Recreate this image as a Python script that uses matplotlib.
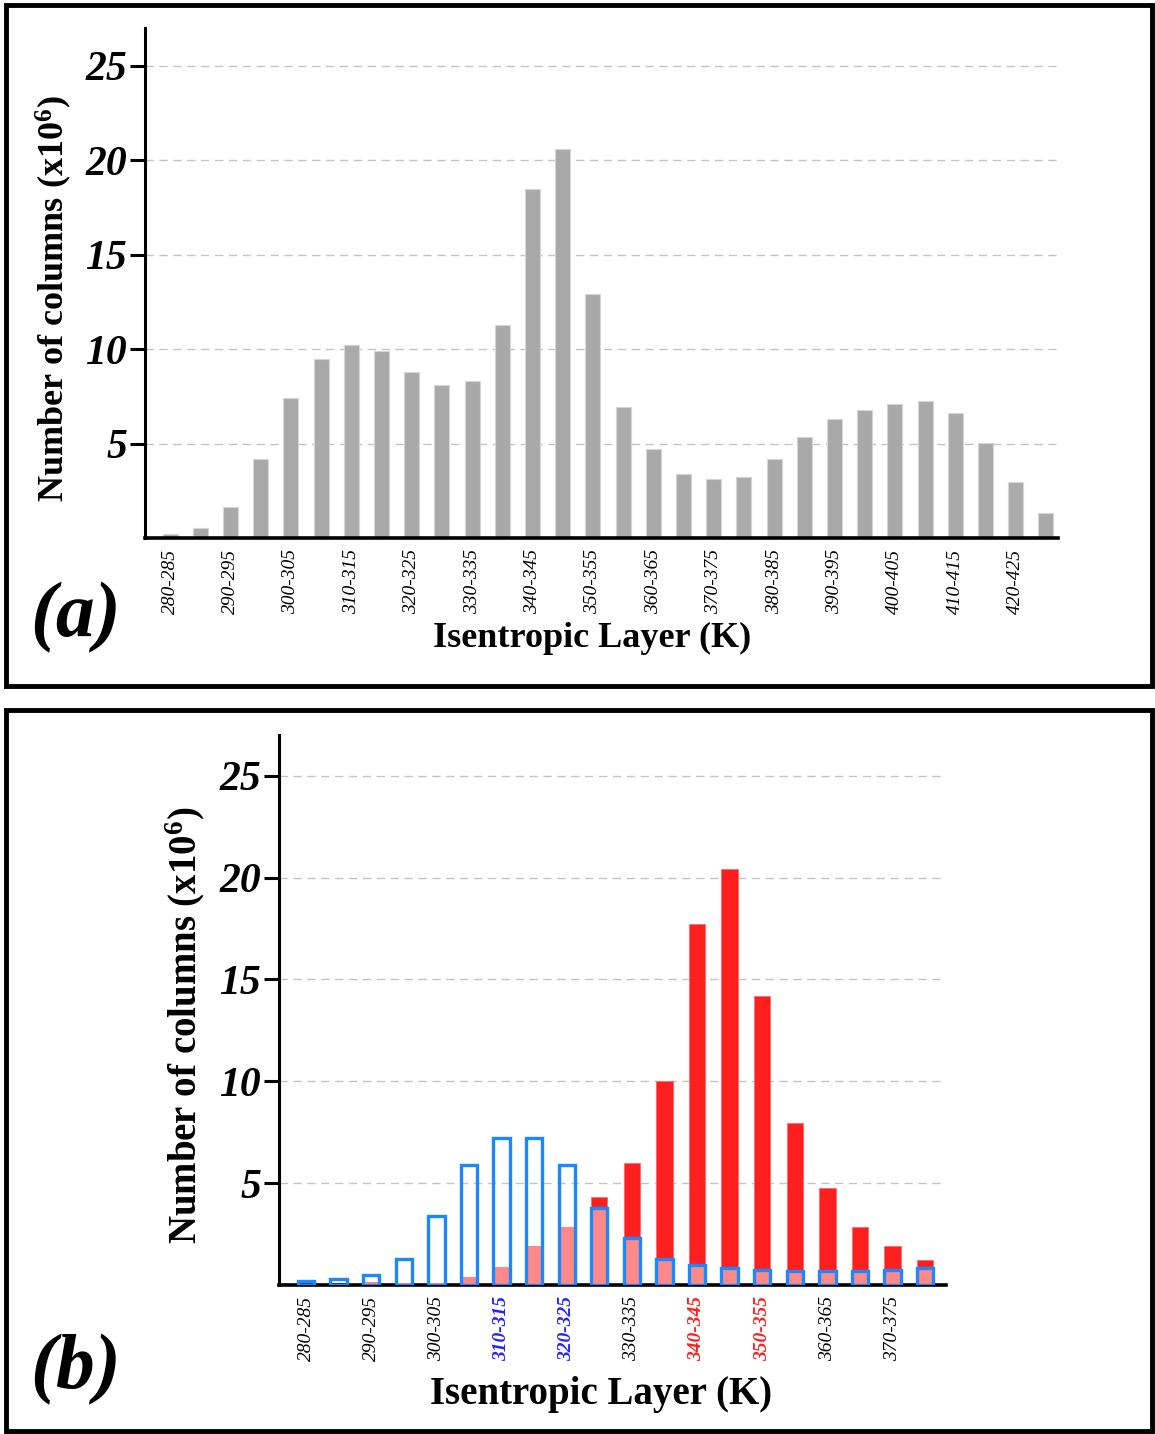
import numpy as np
import matplotlib.pyplot as plt
from matplotlib.patches import Rectangle

plt.rcParams['font.family'] = ['Liberation Serif', 'DejaVu Serif']
plt.rcParams['mathtext.fontset'] = 'custom'
plt.rcParams['mathtext.rm'] = 'Liberation Serif:bold'
plt.rcParams['mathtext.it'] = 'Liberation Serif:bold:italic'
plt.rcParams['mathtext.bf'] = 'Liberation Serif:bold'

# (a) all columns
layers_a = ['280-285', '285-290', '290-295', '295-300', '300-305', '305-310',
            '310-315', '315-320', '320-325', '325-330', '330-335', '335-340',
            '340-345', '345-350', '350-355', '355-360', '360-365', '365-370',
            '370-375', '375-380', '380-385', '385-390', '390-395', '395-400',
            '400-405', '405-410', '410-415', '415-420', '420-425', '425-430']
counts_a = [0.2, 0.55, 1.65, 4.2, 7.4, 9.5, 10.2, 9.9, 8.8, 8.1,
            8.3, 11.3, 18.5, 20.6, 12.9, 6.95, 4.7, 3.4, 3.1, 3.25,
            4.2, 5.35, 6.3, 6.8, 7.1, 7.25, 6.6, 5.05, 2.95, 1.3]

# (b) red = one class, blue outline = other class, pink = where both overlap
layers_b = layers_a[:20]
red_b = [0.05, 0.05, 0.15, 0.1, 0.1, 0.4, 0.9, 1.9, 2.85, 4.3,
         6.0, 10.0, 17.7, 20.4, 14.2, 7.95, 4.75, 2.85, 1.9, 1.25]
blue_b = [0.2, 0.3, 0.5, 1.3, 3.4, 5.9, 7.2, 7.2, 5.9, 3.8,
          2.3, 1.3, 1.0, 0.85, 0.75, 0.7, 0.7, 0.7, 0.75, 0.85]
label_colors_b = {'310-315': '#2323ff', '320-325': '#2323ff',
                  '340-345': '#ff2020', '350-355': '#ff2020'}

yticks = [5, 10, 15, 20, 25]
ylabel = 'Number of columns (x10$^{6}$)'
xlabel = 'Isentropic Layer (K)'

W, H = 1155, 1434
fig = plt.figure(figsize=(W / 100, H / 100), dpi=100)


def style_axes(ax, xmax, labsize, ylabelpad, xlabelpad):
    ax.set_xlim(-0.83, xmax)
    ax.set_ylim(0, 27)
    ax.set_yticks(yticks)
    ax.set_yticklabels([str(t) for t in yticks], fontsize=30,
                       fontweight='bold', fontstyle='italic')
    ax.yaxis.grid(True, linestyle=(0, (6, 4)), color='#c4c4c4', lw=1)
    ax.set_axisbelow(True)
    for s in ['top', 'right']:
        ax.spines[s].set_visible(False)
    ax.spines['left'].set_linewidth(2.2)
    ax.spines['bottom'].set_linewidth(2.6)
    ax.tick_params(axis='y', length=11, width=2.2, pad=2)
    ax.tick_params(axis='x', length=0, pad=8)
    ax.set_xlabel(xlabel, fontsize=labsize, fontweight='bold', labelpad=xlabelpad)
    ax.set_ylabel(ylabel, fontsize=labsize, fontweight='bold', labelpad=ylabelpad)


# panel (a)
ax1 = fig.add_axes([145 / W, 1 - 538 / H, (1058 - 145) / W, (538 - 28) / H])
xa = np.arange(len(counts_a))
ax1.bar(xa, counts_a, width=0.5, color='#a9a9a9', edgecolor='#d6d6d6', lw=0.8)
style_axes(ax1, 29.4, 26, 8, 6)
ax1.set_xticks(xa[::2])
ax1.set_xticklabels(layers_a[::2], rotation=90, fontsize=14, fontstyle='italic')
ax1.xaxis.label.set_x(0.49)
ax1.yaxis.label.set_y(0.47)

# panel (b)
ax2 = fig.add_axes([279 / W, 1 - 1285 / H, (946 - 279) / W, (1285 - 735) / H])
xb = np.arange(len(red_b))
pink_b = np.minimum(red_b, blue_b)
ax2.bar(xb, red_b, width=0.5, color='#ff1f1f', edgecolor='#ff6a6a', lw=0.6, zorder=2)
ax2.bar(xb, pink_b, width=0.5, color='#ff8888', lw=0, zorder=3)
ax2.bar(xb, blue_b, width=0.5, facecolor='none', edgecolor='#1a88ff', lw=2.4, zorder=4)
style_axes(ax2, 19.64, 28, 9, 11)
ax2.set_xticks(xb[::2])
ax2.set_xticklabels(layers_b[::2], rotation=90, fontsize=14, fontstyle='italic')
for t in ax2.get_xticklabels():
    c = label_colors_b.get(t.get_text())
    if c:
        t.set_color(c)
        t.set_fontweight('bold')
ax2.xaxis.label.set_x(0.483)
ax2.yaxis.label.set_y(0.473)

# panel letters
fig.text(75 / W, 1 - 618 / H, '(a)', fontsize=56, fontweight='bold',
         fontstyle='italic', ha='center', va='center')
fig.text(75 / W, 1 - 1370 / H, '(b)', fontsize=56, fontweight='bold',
         fontstyle='italic', ha='center', va='center')

# panel frames
for y0, y1 in [(5, 686), (710, 1431)]:
    fig.patches.append(Rectangle((6 / W, 1 - y1 / H), (1152 - 6) / W, (y1 - y0) / H,
                                 transform=fig.transFigure, fill=False,
                                 edgecolor='black', lw=3.5))

fig.savefig('out.png', dpi=100)
